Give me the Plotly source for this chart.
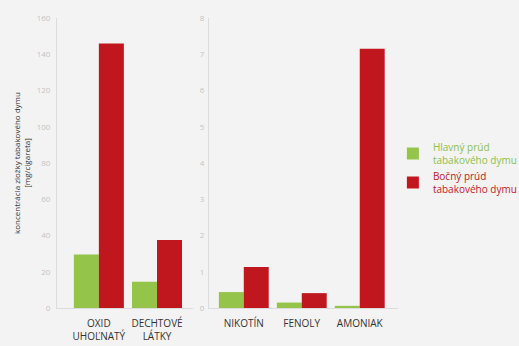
import plotly.graph_objects as go

cats_left = ["OXID<br>UHOĽNATÝ", "DECHTOVÉ<br>LÁTKY"]
main_left = [29.5, 14.5]
side_left = [146, 37.5]

cats_right = ["NIKOTÍN", "FENOLY", "AMONIAK"]
main_right = [0.44, 0.15, 0.06]
side_right = [1.13, 0.41, 7.15]

left_ticks = [0, 20, 40, 60, 80, 100, 120, 140, 160]
right_ticks = [0, 1, 2, 3, 4, 5, 6, 7, 8]

name_main = "Hlavný prúd<br>tabakového dymu"
name_side = "Bočný prúd<br>tabakového dymu"

GREEN = "#95c44b"
RED = "#c0161d"
BG = "#f3f3f3"
FONT = "Open Sans"

fig = go.Figure()
fig.add_trace(go.Bar(x=cats_left, y=main_left, name="<span style='color:#8cc04a'>" + name_main + "</span>",
                     marker=dict(color=GREEN, line=dict(width=0)), xaxis="x", yaxis="y",
                     legendgroup="main"))
fig.add_trace(go.Bar(x=cats_left, y=side_left, name="<span style='color:#c8161d'>" + name_side + "</span>",
                     marker=dict(color=RED, line=dict(width=0)), xaxis="x", yaxis="y",
                     legendgroup="side"))
fig.add_trace(go.Bar(x=cats_right, y=main_right, name=name_main, showlegend=False,
                     marker=dict(color=GREEN, line=dict(width=0)), xaxis="x2", yaxis="y2",
                     legendgroup="main"))
fig.add_trace(go.Bar(x=cats_right, y=side_right, name=name_side, showlegend=False,
                     marker=dict(color=RED, line=dict(width=0)), xaxis="x2", yaxis="y2",
                     legendgroup="side"))

axis_common = dict(showgrid=False, zeroline=False, showline=True, linecolor="#dcdcdc", linewidth=1)

fig.update_layout(
    width=519, height=346,
    margin=dict(l=0, r=0, t=18, b=38, autoexpand=False),
    paper_bgcolor=BG, plot_bgcolor=BG,
    font=dict(family=FONT, size=10, color="#333333"),
    barmode="group", bargap=0.14, bargroupgap=0,
    showlegend=True,
    legend=dict(x=0.757, y=0.60, xanchor="left", yanchor="top",
                bgcolor="rgba(0,0,0,0)", font=dict(size=10, family=FONT),
                tracegroupgap=0, itemwidth=30),
    xaxis=dict(domain=[0.1098, 0.372], range=[-0.72, 1.62], anchor="y",
               tickfont=dict(size=10, color="#333333"), ticks="",
               ticklabelstandoff=6, **axis_common),
    yaxis=dict(range=[0, 160], tickvals=left_ticks, anchor="x",
               tickfont=dict(size=8, color="#c4c4c4"), ticks="",
               ticklabelstandoff=4,
               title=dict(text="koncentrácia zložky tabakového dymu<br>[mg/cigareta]",
                          font=dict(size=8, color="#333333"), standoff=4),
               **axis_common),
    xaxis2=dict(domain=[0.4027, 0.7669], range=[-0.6, 2.66], anchor="y2",
                tickfont=dict(size=10, color="#333333"), ticks="",
                ticklabelstandoff=6, **axis_common),
    yaxis2=dict(range=[0, 8], tickvals=right_ticks, anchor="x2",
                tickfont=dict(size=8, color="#c4c4c4"), ticks="",
                ticklabelstandoff=2, **axis_common),
)

fig.write_html("out.html")
